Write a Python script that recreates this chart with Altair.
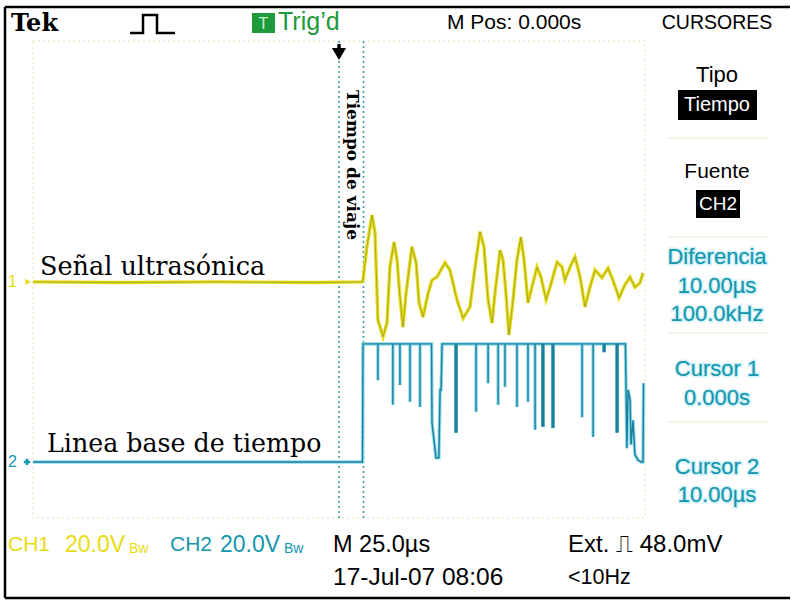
import altair as alt
import pandas as pd

# ---------------- data read from the screen ----------------
# time in microseconds (0 = trigger, 25 us/div), vertical position in divisions
ch1_t = [-125, -90, -50, -10, 9.4, 9.8, 11.4, 13.5, 14.7, 15.9, 18.0, 19.6, 20.8, 22.5,
         23.7, 24.9, 26.1, 27.4, 29.8, 31.5, 32.7, 34.3, 36.4, 38.0, 40.0, 43.3, 45.3,
         48.2, 50.7, 53.5, 55.6, 57.6, 59.2, 60.9, 62.5, 63.7, 65.8, 67.0, 68.2, 69.4,
         71.1, 72.7, 74.3, 75.6, 77.2, 78.8, 80.9, 82.5, 84.6, 86.2, 89.1, 91.1, 92.3,
         94.4, 96.4, 98.5, 100.5, 102.5, 104.6, 107.4, 109.9, 111.9, 114.4, 116.8,
         118.9, 120.9, 122.9, 124.2]
ch1_v = [-0.04, -0.05, -0.04, -0.05, -0.04, -0.01, 0.55, 1.08, 0.78, -0.68, -0.96, -0.73,
         0.21, 0.63, 0.33, -0.29, -0.80, -0.23, 0.55, 0.28, -0.39, -0.63, -0.23, -0.01,
         0.04, 0.28, 0.16, -0.34, -0.65, -0.46, 0.21, 0.80, 0.55, -0.34, -0.73, -0.23,
         0.49, 0.33, -0.23, -0.93, -0.34, 0.33, 0.71, 0.33, -0.39, -0.13, 0.21, 0.04,
         -0.34, -0.13, 0.29, 0.21, -0.01, 0.21, 0.38, 0.04, -0.46, -0.13, 0.16, 0.03,
         0.19, -0.01, -0.31, -0.09, 0.04, -0.13, -0.06, 0.11]

ch2_t = [-125, 9.6, 9.8, 37.8, 38.0, 38.8, 39.6, 40.8, 41.3, 41.7, 42.1, 117.0, 117.2,
         117.6, 118.1, 118.9, 119.3, 120.1, 120.9, 122.2, 123.4, 124.2, 124.4]
ch2_v = [-3.06, -3.06, -1.08, -1.08, -2.41, -2.69, -2.99, -2.99, -1.85, -1.85, -1.08,
         -1.08, -1.64, -2.83, -1.85, -2.02, -2.77, -2.36, -2.94, -3.03, -3.06, -3.06, -1.74]

ch2_high = -1.08
spike_t = [15.9, 22.0, 24.9, 29.0, 33.1, 47.8, 56.0, 60.9, 65.0, 67.8, 72.7, 77.2, 80.1,
           83.3, 87.4, 99.3, 103.8, 108.3, 113.6]
spike_v = [-1.69, -2.10, -1.77, -2.05, -2.14, -2.57, -2.22, -1.74, -2.10, -1.80, -2.14,
           -2.05, -2.52, -2.47, -2.49, -2.31, -2.64, -1.22, -2.57]
spike_thick = [0, 0, 0, 0, 0, 1, 0, 0, 0, 0, 0, 0, 0, 1, 1, 0, 0, 1, 1]

cursor_t = [0, 10]
ch1_ground = -0.04
ch2_ground = -3.06

# ---------------- frames ----------------
ch1 = pd.DataFrame({"t": ch1_t, "v": ch1_v, "i": range(len(ch1_t))})
ch2 = pd.DataFrame({"t": ch2_t, "v": ch2_v, "i": range(len(ch2_t))})
spk = pd.DataFrame({"t": spike_t, "v": spike_v, "top": ch2_high, "thick": spike_thick})
cur = pd.DataFrame({"t": cursor_t})
one = pd.DataFrame({"k": [0]})

OX, OY = 33, 41
W, H = 612, 477
SCOPE = "Liberation Sans, Arial, sans-serif"
SANS = "Liberation Sans, Arial, sans-serif"
SERIF = "DejaVu Serif, serif"
YEL = "#e8dc10"
CYAN = "#1596ad"
GREEN = "#1e9a3a"

X = alt.X("t:Q", scale=alt.Scale(domain=[-125, 125], nice=False, zero=False), axis=None)
Y = alt.Y("v:Q", scale=alt.Scale(domain=[-4, 4], nice=False, zero=False), axis=None)


def T(s, x, y, size, color="black", font=SCOPE, weight="normal", align="left",
      baseline="middle", angle=0, glow=None):
    kw = dict(text=s, fontSize=size, color=color, font=font, fontWeight=weight,
              align=align, baseline=baseline, angle=angle)
    if glow:
        kw.update(stroke=glow, strokeWidth=3, strokeOpacity=0.8)
    return alt.Chart(one).mark_text(**kw).encode(x=alt.value(x - OX), y=alt.value(y - OY))


def B(x1, y1, x2, y2, fill):
    return alt.Chart(one).mark_rect(fill=fill).encode(
        x=alt.value(x1 - OX), x2=alt.value(x2 - OX),
        y=alt.value(y1 - OY), y2=alt.value(y2 - OY))


def S(x1, y1, x2, y2, color="black", w=2.0, dash=None):
    kw = dict(color=color, strokeWidth=w)
    if dash:
        kw["strokeDash"] = dash
    return alt.Chart(one).mark_rule(**kw).encode(
        x=alt.value(x1 - OX), x2=alt.value(x2 - OX),
        y=alt.value(y1 - OY), y2=alt.value(y2 - OY))


layers = []

# outer frame
layers += [S(5, 7, 790, 7, w=2.5), S(5, 7, 5, 598, w=2.5), S(5, 598, 790, 598, w=2.5)]

# graticule border
layers.append(alt.Chart(one).mark_rect(fillOpacity=0, stroke="#e4e2b0", strokeWidth=1,
                                       strokeDash=[2, 3]).encode(
    x=alt.value(0), x2=alt.value(W), y=alt.value(0), y2=alt.value(H)))

# right-panel separators
for yy in [138, 237, 333, 422]:
    layers.append(S(668, yy, 768, yy, color="#ecebd0", w=1))

# cursors
layers.append(alt.Chart(cur).mark_rule(color="#3f9c9c", strokeWidth=1.6, strokeDash=[2, 3]).encode(
    x=X, y=alt.value(0), y2=alt.value(H)))

# trigger arrow
layers.append(alt.Chart(one).mark_rule(color="black", strokeWidth=3.5).encode(
    x=alt.value(W / 2), y=alt.value(3), y2=alt.value(10)))
layers.append(alt.Chart(one).mark_point(shape="triangle-down", filled=True, color="black",
                                        size=200, opacity=1).encode(
    x=alt.value(W / 2), y=alt.value(13)))

# CH2 trace
layers.append(alt.Chart(ch2).mark_line(color="#8fdcef", strokeWidth=3.5).encode(x=X, y=Y, order="i:Q"))
layers.append(alt.Chart(spk).mark_rule(color="#8fdcef", strokeWidth=3.5).encode(
    x=X, y=Y, y2="top:Q"))
layers.append(alt.Chart(ch2).mark_line(color="#1b7f99", strokeWidth=1.4).encode(x=X, y=Y, order="i:Q"))
layers.append(alt.Chart(spk).mark_rule(color="#1b7f99").encode(
    x=X, y=Y, y2="top:Q",
    strokeWidth=alt.StrokeWidth("thick:Q", scale=alt.Scale(domain=[0, 1], range=[1.4, 3.2]),
                                legend=None)))

# CH1 trace
layers.append(alt.Chart(ch1).mark_line(color=YEL, strokeWidth=3.4).encode(x=X, y=Y, order="i:Q"))
layers.append(alt.Chart(ch1).mark_line(color="#9ea436", strokeWidth=0.9).encode(x=X, y=Y, order="i:Q"))

# ground markers
layers.append(alt.Chart(pd.DataFrame({"v": [ch1_ground]})).mark_text(
    text="1", fontSize=16, color=YEL, font=SCOPE, align="left", baseline="middle").encode(
    x=alt.value(-25), y=Y))
layers.append(alt.Chart(pd.DataFrame({"v": [ch1_ground]})).mark_point(
    shape="triangle-right", filled=True, color=YEL, size=40, opacity=1).encode(
    x=alt.value(-5), y=Y))
layers.append(alt.Chart(pd.DataFrame({"v": [ch2_ground]})).mark_text(
    text="2", fontSize=16, color=CYAN, font=SCOPE, align="left", baseline="middle").encode(
    x=alt.value(-25), y=Y))
layers.append(alt.Chart(pd.DataFrame({"v": [ch2_ground]})).mark_point(
    shape="cross", filled=True, color=CYAN, size=40, opacity=1).encode(
    x=alt.value(-6), y=Y))

# annotations
layers.append(T("Señal ultrasónica", 40, 275, 25.5, font=SERIF, baseline="alphabetic"))
layers.append(T("Linea base de tiempo", 47, 452, 25.3, font=SERIF, baseline="alphabetic"))
layers.append(T("Tiempo de viaje", 352, 165, 17, font=SERIF, weight="bold", align="center",
                angle=90))

# header
layers.append(T("Tek", 11, 31, 24, font=SERIF, weight="bold", baseline="alphabetic"))
layers += [S(130, 33, 144, 33, w=2.5), S(143, 34, 143, 14, w=2.5), S(142, 15, 158, 15, w=2.5),
           S(157, 14, 157, 34, w=2.5), S(156, 33, 175, 33, w=2.5)]
layers.append(B(252, 13, 275, 33, GREEN))
layers.append(T("T", 263.5, 23.5, 16, color="#c9f0c9", font=SANS, align="center"))
layers.append(T("Trig\u2019d", 278, 22, 25, color=GREEN))
layers.append(T("M Pos: 0.000s", 447, 23, 21))
layers.append(T("CURSORES", 717, 23, 19.5, align="center"))

# right menu
layers.append(T("Tipo", 717, 75, 22, align="center"))
layers.append(B(678, 90, 757, 120, "black"))
layers.append(T("Tiempo", 717, 105, 20, color="white", font=SANS, align="center"))
layers.append(T("Fuente", 717, 172, 21, align="center"))
layers.append(B(696, 190, 740, 218, "black"))
layers.append(T("CH2", 718, 204, 19, color="white", font=SANS, align="center"))
for s, yy in [("Diferencia", 257), ("10.00\u00b5s", 286), ("100.0kHz", 314),
              ("Cursor 1", 369), ("0.000s", 398), ("Cursor 2", 467), ("10.00\u00b5s", 495)]:
    layers.append(T(s, 717, yy, 22, color=CYAN, align="center", glow="#c4eef8"))
    layers.append(T(s, 717, yy, 22, color=CYAN, align="center"))

# bottom status
layers.append(T("CH1", 8, 545, 21, color=YEL))
layers.append(T("20.0V", 65, 545, 23, color=YEL))
layers.append(T("Bw", 129, 549, 14, color=YEL))
layers.append(T("CH2", 170, 545, 21, color=CYAN))
layers.append(T("20.0V", 220, 545, 23, color=CYAN))
layers.append(T("Bw", 284, 549, 14, color=CYAN))
layers.append(T("M 25.0\u00b5s", 333, 545, 23.5))
layers.append(T("Ext. \u238d 48.0mV", 568, 545, 24))
layers.append(T("17-Jul-07 08:06", 333, 578, 24.5))
layers.append(T("<10Hz", 568, 578, 21.5))

chart = alt.layer(*layers).properties(
    width=W, height=H,
    autosize=alt.AutoSizeParams(type="none"),
    padding={"left": OX, "top": OY, "right": 791 - OX - W, "bottom": 602 - OY - H},
    background="white",
).configure_view(strokeWidth=0)

chart.save("out.html", embed_options={"renderer": "svg", "actions": False})
